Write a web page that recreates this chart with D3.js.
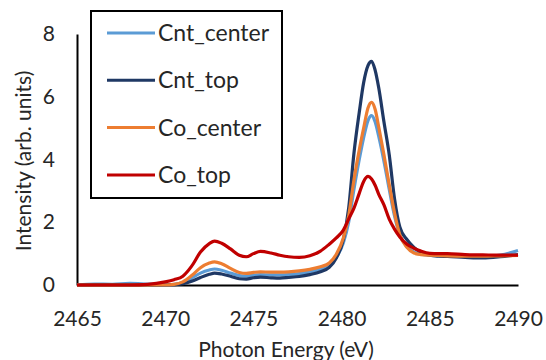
<!DOCTYPE html>
<html>
<head>
<meta charset="utf-8">
<script src="https://d3js.org/d3.v7.min.js"></script>
<style>
  body { margin: 0; background: #fff; }
  text { font-family: Lato, "Open Sans", sans-serif; fill: #262626; }
</style>
</head>
<body>
<div id="chart"></div>
<script>
// photon energy (eV), shared by all series
const energy = [2465, 2466, 2467, 2468, 2469, 2469.5, 2470, 2470.5, 2471, 2471.5,
  2472, 2472.5, 2472.8, 2473.2, 2473.7, 2474.2, 2474.6, 2475, 2475.4, 2476,
  2476.5, 2477, 2477.6, 2478.2, 2478.8, 2479.3, 2479.7, 2480.1, 2480.4, 2480.7,
  2481, 2481.25, 2481.5, 2481.7, 2481.9, 2482.1, 2482.4, 2482.7, 2483, 2483.3,
  2483.7, 2484.1, 2484.5, 2485, 2485.5, 2486, 2487, 2488, 2489, 2490]

const cntCenter = [0, 0.03, 0.02, 0.05, 0.03, 0.02, 0, 0.02, 0.08, 0.22,
  0.38, 0.48, 0.51, 0.47, 0.38, 0.3, 0.28, 0.31, 0.33, 0.32,
  0.32, 0.33, 0.36, 0.42, 0.5, 0.62, 0.88, 1.35, 2.0, 3.05,
  4.0, 4.7, 5.25, 5.4, 5.2, 4.75, 3.95, 3.05, 2.2, 1.6,
  1.22, 1.05, 0.98, 0.95, 0.94, 0.93, 0.92, 0.9, 0.95, 1.1]

const cntTop = [0, 0.01, 0.01, 0.01, 0.01, 0, 0, 0.01, 0.04, 0.12,
  0.24, 0.34, 0.38, 0.35, 0.28, 0.2, 0.19, 0.23, 0.25, 0.23,
  0.22, 0.24, 0.27, 0.33, 0.42, 0.56, 0.86, 1.45, 2.45, 4.2,
  5.5, 6.45, 7.0, 7.13, 6.85, 6.3, 5.2, 4.15, 2.75, 1.85,
  1.45, 1.2, 1.04, 0.95, 0.92, 0.91, 0.88, 0.86, 0.9, 0.97]

const coCenter = [0, 0, 0, 0, 0, 0, 0, 0.02, 0.1, 0.3,
  0.55, 0.7, 0.74, 0.68, 0.53, 0.4, 0.37, 0.4, 0.42, 0.41,
  0.41, 0.42, 0.45, 0.5, 0.58, 0.7, 0.98, 1.5, 2.2, 3.35,
  4.3, 5.0, 5.65, 5.82, 5.6, 5.05, 4.15, 3.2, 2.3, 1.6,
  1.2, 1.02, 0.97, 0.95, 0.94, 0.93, 0.92, 0.92, 0.93, 0.94]

const coTop = [0, 0, 0, 0, 0.02, 0.05, 0.1, 0.17, 0.28, 0.6,
  1.05, 1.32, 1.4, 1.33, 1.15, 0.95, 0.9, 1.0, 1.07, 1.02,
  0.95, 0.9, 0.88, 0.93, 1.08, 1.3, 1.5, 1.75, 2.1, 2.45,
  2.92, 3.3, 3.46, 3.38, 3.18, 2.9, 2.55, 2.1, 1.78, 1.53,
  1.3, 1.17, 1.08, 1.01, 1.0, 1.0, 0.97, 0.96, 0.95, 0.95]

const seriesNames = ["Cnt_center", "Cnt_top", "Co_center", "Co_top"]
const seriesValues = [cntCenter, cntTop, coCenter, coTop]
const seriesColors = ["#5B9BD5", "#1F3864", "#ED7D31", "#C00000"]

const xTicks = [2465, 2470, 2475, 2480, 2485, 2490]
const yTicks = [0, 2, 4, 6, 8]

const width = 546, height = 360

let svg = d3.select("#chart")
  .append("svg")
  .attr("width", width)
  .attr("height", height)

let x = d3.scaleLinear().domain([2465, 2490]).range([77, 518])
let y = d3.scaleLinear().domain([0, 8]).range([285, 34])

// axes, no tick marks (excel style)
let gx = svg.append("g")
  .attr("transform", `translate(0, ${y(0)})`)
  .call(d3.axisBottom(x).tickValues(xTicks).tickSize(0).tickPadding(26).tickFormat(d3.format("d")))
gx.select(".domain").attr("stroke", "#000").attr("stroke-width", 2)
gx.selectAll(".tick text").attr("font-size", "21px").attr("font-family", "Lato").attr("fill", "#262626")

let gy = svg.append("g")
  .attr("transform", `translate(${x(2465)}, 0)`)
  .call(d3.axisLeft(y).tickValues(yTicks).tickSize(0).tickPadding(22))
gy.select(".domain").attr("stroke", "#000").attr("stroke-width", 2)
gy.selectAll(".tick text").attr("font-size", "21px").attr("font-family", "Lato").attr("fill", "#262626")

// axis titles
svg.append("text")
  .attr("x", 286)
  .attr("y", 357)
  .attr("text-anchor", "middle")
  .attr("font-size", "21px")
  .text("Photon Energy (eV)")

svg.append("text")
  .attr("transform", "translate(31, 161) rotate(-90)")
  .attr("text-anchor", "middle")
  .attr("font-size", "21px")
  .text("Intensity (arb. units)")

// series lines
let line = d3.line()
  .x(d => x(d[0]))
  .y(d => y(d[1]))
  .curve(d3.curveMonotoneX)

svg.append("g")
  .selectAll("path")
  .data(seriesValues)
  .join("path")
    .attr("d", vals => line(energy.map((e, i) => [e, vals[i]])))
    .attr("fill", "none")
    .attr("stroke", (d, i) => seriesColors[i])
    .attr("stroke-width", 3.2)
    .attr("stroke-linejoin", "round")

// legend
let legend = svg.append("g")

legend.append("rect")
  .attr("x", 91)
  .attr("y", 11)
  .attr("width", 191)
  .attr("height", 187)
  .attr("fill", "#fff")
  .attr("stroke", "#000")
  .attr("stroke-width", 2)

let item = legend.selectAll(".item")
  .data(seriesNames)
  .join("g")
    .attr("class", "item")
    .attr("transform", (d, i) => `translate(0, ${33 + i * 47.3})`)

item.append("line")
  .attr("x1", 107)
  .attr("x2", 155)
  .attr("stroke", (d, i) => seriesColors[i])
  .attr("stroke-width", 3)

item.append("text")
  .attr("x", 158)
  .attr("dy", "0.35em")
  .attr("font-size", "23px")
  .text(d => d)
</script>
</body>
</html>
